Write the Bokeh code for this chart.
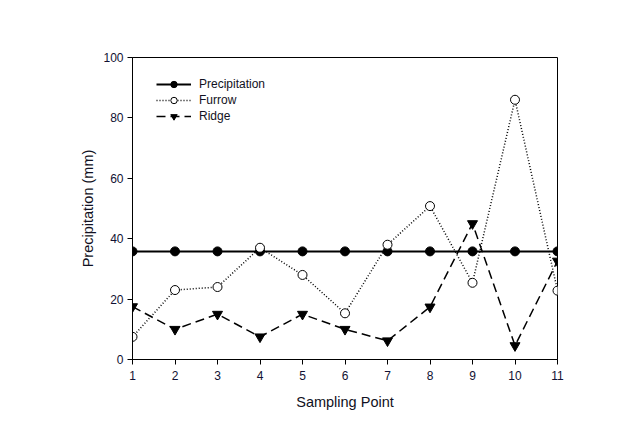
from bokeh.plotting import figure
from bokeh.models import Legend, LegendItem, Range1d, FixedTicker
from bokeh.embed import file_html
from bokeh.resources import INLINE

points = [1, 2, 3, 4, 5, 6, 7, 8, 9, 10, 11]
precipitation = [35.8] * 11
furrow = [7.5, 23.0, 24.0, 37.0, 28.0, 15.3, 38.0, 50.8, 25.4, 86.0, 22.8]
ridge = [17.5, 10.0, 15.0, 7.5, 15.0, 10.0, 6.2, 17.4, 45.0, 4.6, 32.6]
y_ticks = [0, 20, 40, 60, 80, 100]

FONT = "Liberation Sans"

p = figure(width=609, height=414, output_backend="svg", toolbar_location=None,
           x_range=Range1d(1, 11), y_range=Range1d(0, 100),
           min_border_left=132, min_border_right=52, min_border_top=57, min_border_bottom=55)
p.xgrid.visible = False
p.ygrid.visible = False
p.outline_line_color = "black"
p.outline_line_width = 1
p.background_fill_color = "white"
p.border_fill_color = "white"

for ax in (p.xaxis[0], p.yaxis[0]):
    ax.major_tick_out = 5
    ax.major_tick_in = 0
    ax.minor_tick_line_color = None
    ax.axis_line_color = "black"
    ax.major_tick_line_color = "black"
    ax.major_label_text_font = FONT
    ax.major_label_text_font_size = "12px"
    ax.major_label_text_color = "#111133"
    ax.axis_label_text_font = FONT
    ax.axis_label_text_font_size = "14.5px"
    ax.axis_label_text_font_style = "normal"
    ax.axis_label_text_color = "#111122"

p.xaxis[0].ticker = FixedTicker(ticks=points)
p.yaxis[0].ticker = FixedTicker(ticks=y_ticks)
p.xaxis[0].axis_label = "Sampling Point"
p.yaxis[0].axis_label = "Precipitation (mm)"
p.xaxis[0].major_label_standoff = 6
p.xaxis[0].axis_label_standoff = 11
p.yaxis[0].major_label_standoff = 4
p.yaxis[0].axis_label_standoff = 4

l1 = p.line(points, precipitation, line_color="black", line_width=2)
m1 = p.scatter(points, precipitation, marker="circle", size=9, fill_color="black", line_color="black")
l2 = p.line(points, furrow, line_color="black", line_width=1.5, line_dash="1 2")
m2 = p.scatter(points, furrow, marker="circle", size=9, fill_color="white", line_color="black", line_width=1)
l3 = p.line(points, ridge, line_color="black", line_width=1.5, line_dash="9 5")
m3 = p.scatter(points, ridge, marker="inverted_triangle", size=10, fill_color="black", line_color="black")

legend = Legend(items=[
    LegendItem(label="Precipitation", renderers=[l1, m1]),
    LegendItem(label="Furrow", renderers=[l2, m2]),
    LegendItem(label="Ridge", renderers=[l3, m3]),
], location=(24, 235))
legend.margin = 0
legend.padding = 0
legend.spacing = 0
legend.glyph_width = 35
legend.glyph_height = 16
legend.label_height = 16
legend.label_standoff = 8
legend.label_text_font = FONT
legend.label_text_font_size = "12px"
legend.label_text_color = "#111122"
legend.border_line_color = None
legend.background_fill_alpha = 0
p.add_layout(legend)

open("out.html", "w").write(file_html(p, INLINE))
